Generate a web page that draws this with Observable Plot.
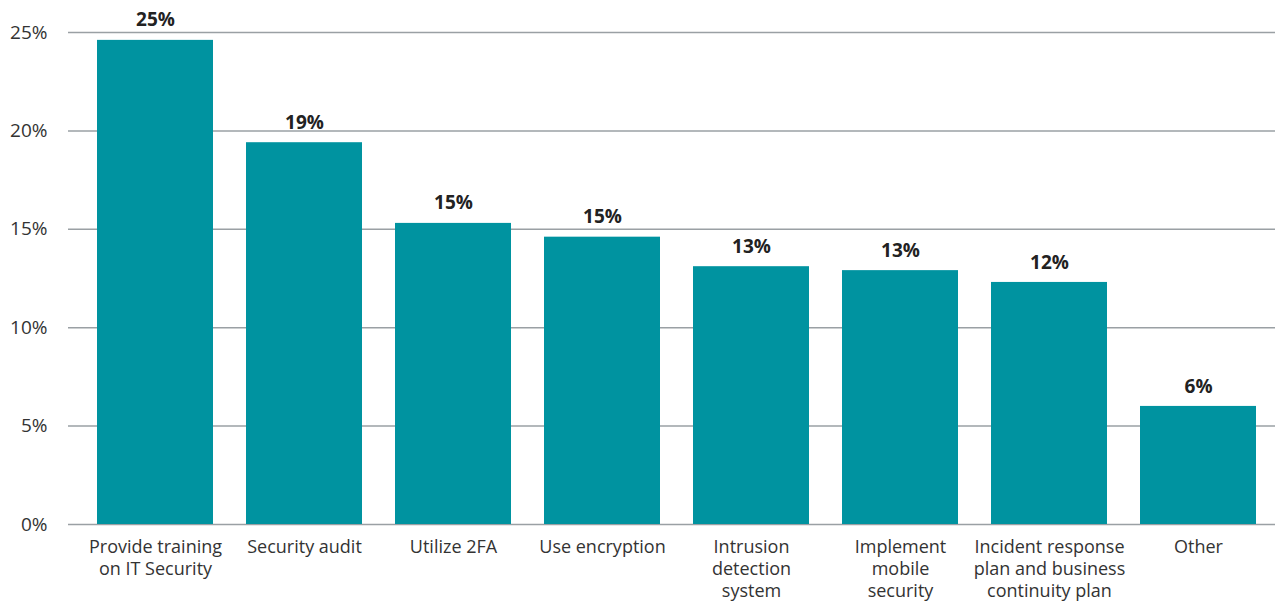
<!DOCTYPE html>
<html>
<head>
<meta charset="utf-8">
<script src="https://cdn.jsdelivr.net/npm/d3@7"></script>
<script src="https://cdn.jsdelivr.net/npm/@observablehq/plot@0.6"></script>
<style>
  html, body { margin: 0; padding: 0; background: #fff; }
  #chart svg { display: block; }
</style>
</head>
<body>
<div id="chart"></div>
<script>
const categories = [
  "Provide training\non IT Security",
  "Security audit",
  "Utilize 2FA",
  "Use encryption",
  "Intrusion\ndetection\nsystem",
  "Implement\nmobile\nsecurity",
  "Incident response\nplan and business\ncontinuity plan",
  "Other"
];
const values = [24.6, 19.4, 15.3, 14.6, 13.1, 12.9, 12.3, 6.0];
const yTicks = [0, 5, 10, 15, 20, 25];

const data = categories.map((c, i) => ({category: c, value: values[i]}));

const chart = Plot.plot({
  width: 1275,
  height: 603,
  marginLeft: 68,
  marginRight: 0,
  marginTop: 32,
  marginBottom: 79,
  style: {fontFamily: "'Open Sans', sans-serif", color: "#333", background: "#fff"},
  x: {domain: categories, padding: 0.222, paddingOuter: 0.161, align: 0.6, label: null},
  y: {domain: [0, 25], label: null},
  marks: [
    Plot.ruleY(yTicks, {stroke: "#9aa0a4", strokeWidth: 1.5}),
    Plot.barY(data, {x: "category", y: "value", fill: "#0093a0"}),
    Plot.text(data, {x: "category", y: "value", text: d => Math.round(d.value) + "%", dy: -20, fontSize: 19, fontWeight: "bold", fill: "#222"}),
    Plot.axisY(yTicks, {tickSize: 0, tickPadding: 21, fontSize: 19, tickFormat: d => d + "%", fill: "#333"}),
    Plot.axisX({tickSize: 0, tickPadding: 13, fontSize: 18, lineHeight: 1.22, fill: "#333"})
  ]
});
document.getElementById("chart").appendChild(chart);
</script>
</body>
</html>
